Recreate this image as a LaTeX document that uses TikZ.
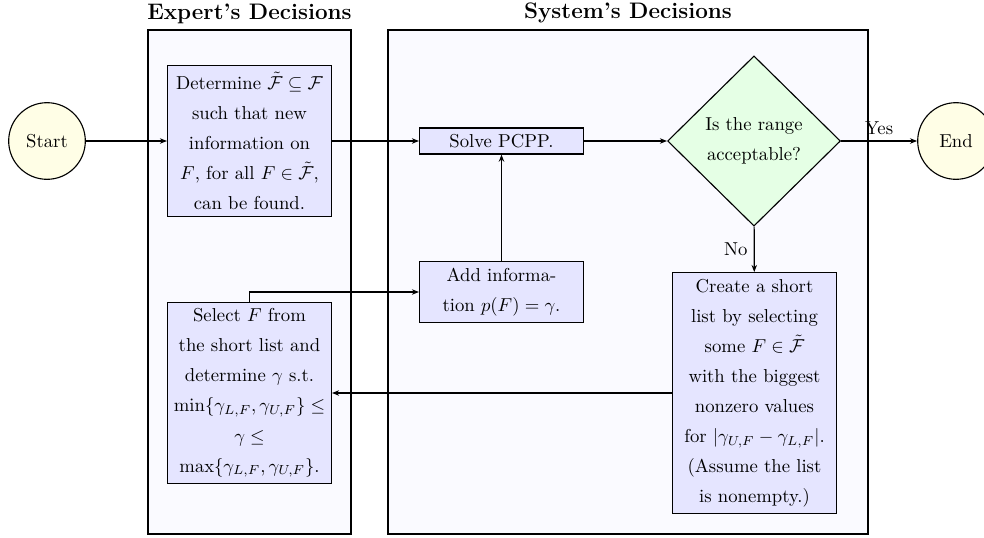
\documentclass[tikz,border=0pt]{standalone}
\usepackage{amsmath,amssymb}
\usepackage{tikz}
\usetikzlibrary{arrows.meta,shapes.geometric,positioning}
\tikzset{
    lane/.style={
           draw=black, semithick,
           fill=blue!2,
           },
}
\tikzset{
    lanetitle/.style={
           font=\large\bfseries,
           inner sep=3.33pt,
           },
}
\tikzset{
    proc/.style={
           rectangle,
           draw=black, semithick,
           fill=blue!10,
           text width=81pt,
           align=flush center,
           font=\linespread{1.34}\selectfont,
           },
}
\tikzset{
    decide/.style={
           diamond, aspect=1,
           draw=black, semithick,
           fill=green!10,
           inner sep=0pt,
           minimum width=3.25cm,
           minimum height=3.2cm,
           align=flush center,
           font=\linespread{1.34}\selectfont,
           },
}
\tikzset{
    terminal/.style={
           circle,
           draw=black, semithick,
           fill=yellow!10,
           minimum size=41pt,
           inner sep=0pt,
           },
}
\tikzset{
    flow/.style={-{Stealth[length=3.8pt,width=2.9pt]}, semithick},
}

\begin{document}
\begin{tikzpicture}[x=0.0188cm, y=-0.0188cm]
\useasboundingbox (0,0) rectangle (984,537);

% swim lanes
\draw[lane] (148,30) rectangle (351,534);
\draw[lane] (388,30) rectangle (868,534);
\node[lanetitle, above] (expt) at (249.5,30) {Expert's Decisions};
\node[lanetitle, above] (syst) at (628,30) {System's Decisions};

% nodes
\node[terminal] (start) at (47,141) {Start};
\node[terminal] (stop) at (956,141) {End};
\node[proc] (det) at (249.5,141) {Determine $\tilde{\mathcal{F}}\subseteq\mathcal{F}$\\such that new\\information on\\$F$, for all $F\in\tilde{\mathcal{F}}$,\\can be found.};
\node[proc] (solve) at (501.5,141) {Solve PCPP.};
\node[decide] (range) at (754,141) {Is the range\\acceptable?};
\node[proc] (add) at (501.5,292) {Add informa-\\tion $p(F)=\gamma$.};
\node[proc] (short) at (754.5,393) {Create a short\\list by selecting\\some $F\in\tilde{\mathcal{F}}$\\with the biggest\\nonzero values\\for $|\gamma_{U,F}-\gamma_{L,F}|$.\\(Assume the list\\is nonempty.)};
\node[proc] (sel) at (249.5,393) {Select $F$ from\\the short list and\\determine $\gamma$ s.t.\\$\min\{\gamma_{L,F},\gamma_{U,F}\}\leq$\\$\gamma\leq$\\$\max\{\gamma_{L,F},\gamma_{U,F}\}$.};

% connectors
\draw[flow] (start) -- (det);
\draw[flow] (det) -- (solve);
\draw[flow] (solve) -- (range);
\draw[flow] (range) -- node[above] {Yes} (stop);
\draw[flow] (range) -- node[left] {No} (short);
\draw[flow] (short) -- (sel);
\draw[flow] (sel.north) |- (add.west);
\draw[flow] (add) -- (solve);
\end{tikzpicture}
\end{document}
